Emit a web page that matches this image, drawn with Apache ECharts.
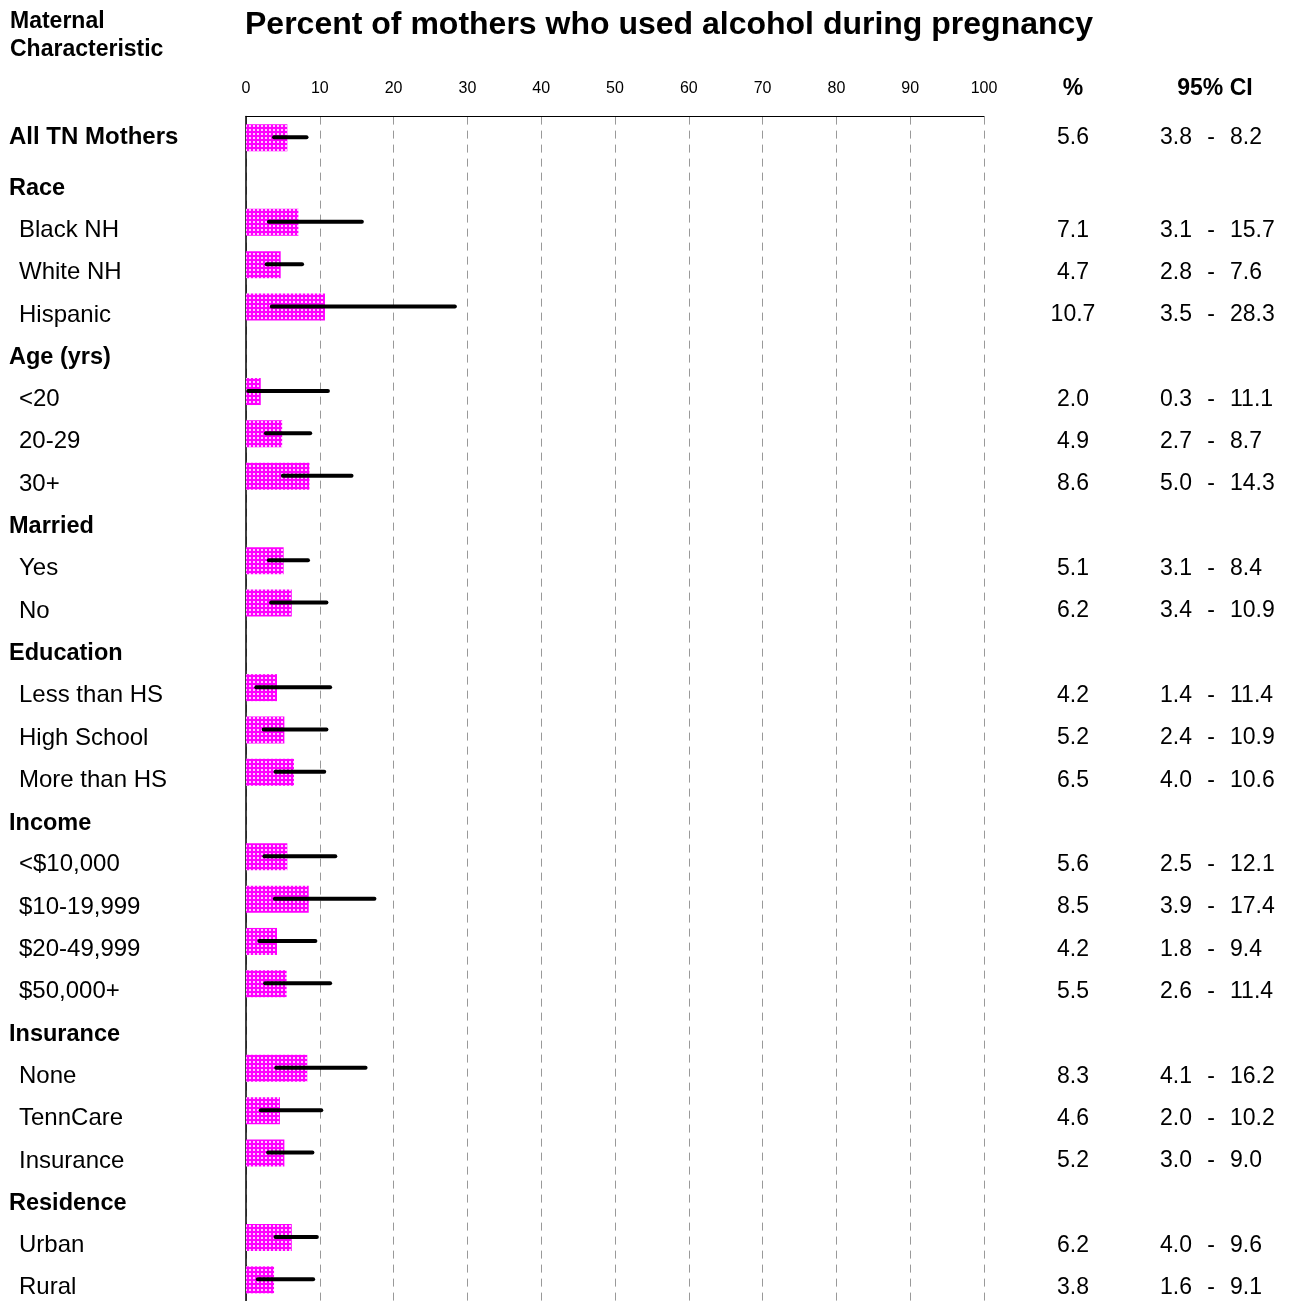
<!DOCTYPE html>
<html>
<head>
<meta charset="utf-8">
<script src="https://cdn.jsdelivr.net/npm/echarts@6/dist/echarts.min.js"></script>
<style>
html,body{margin:0;padding:0;background:#fff;}
#chart{width:1289px;height:1301px;}
</style>
</head>
<body>
<div id="chart"></div>
<script>
// ---- data ----
const rowLabels = ['All TN Mothers','Race','Black NH','White NH','Hispanic','Age (yrs)','<20','20-29','30+','Married','Yes','No','Education','Less than HS','High School','More than HS','Income','<$10,000','$10-19,999','$20-49,999','$50,000+','Insurance','None','TennCare','Insurance','Residence','Urban','Rural'];
const rowIsHeader = [true,true,false,false,false,true,false,false,false,true,false,false,true,false,false,false,true,false,false,false,false,true,false,false,false,true,false,false];
const pctValues = [5.6,null,7.1,4.7,10.7,null,2.0,4.9,8.6,null,5.1,6.2,null,4.2,5.2,6.5,null,5.6,8.5,4.2,5.5,null,8.3,4.6,5.2,null,6.2,3.8];
const ciLow  = [3.8,null,3.1,2.8,3.5,null,0.3,2.7,5.0,null,3.1,3.4,null,1.4,2.4,4.0,null,2.5,3.9,1.8,2.6,null,4.1,2.0,3.0,null,4.0,1.6];
const ciHigh = [8.2,null,15.7,7.6,28.3,null,11.1,8.7,14.3,null,8.4,10.9,null,11.4,10.9,10.6,null,12.1,17.4,9.4,11.4,null,16.2,10.2,9.0,null,9.6,9.1];
const xTicks = [0,10,20,30,40,50,60,70,80,90,100];

const FONT = "'Liberation Sans', Arial, Helvetica, sans-serif";
const rowIds = rowLabels.map((_, i) => 'r' + i);

// pattern fill for bars
const pc = document.createElement('canvas');
pc.width = 4; pc.height = 4;
const pctx = pc.getContext('2d');
pctx.fillStyle = '#ff00ff'; pctx.fillRect(0,0,4,4);
pctx.fillStyle = '#ffc8ff'; pctx.fillRect(1,1,2,2);

const barData = pctValues.map(v => v == null ? '-' : v);
const errData = [];
ciLow.forEach((lo, i) => { if (lo != null) errData.push([lo, ciHigh[i], i]); });

const richBase = {
  top: {fontFamily: FONT, fontSize: 23, color: '#000'},
  topb: {fontFamily: FONT, fontSize: 24, fontWeight: 'bold', color: '#000'},
  h: {fontFamily: FONT, fontSize: 23.5, fontWeight: 'bold', color: '#000', padding: [17,0,0,0]},
  it: {fontFamily: FONT, fontSize: 24, color: '#000', padding: [16,0,0,10]},
  v: {fontFamily: FONT, fontSize: 23, color: '#000', padding: [16,0,0,0]}
};

function valueAxis(margin, align, fn) {
  return {
    type: 'category', data: rowIds, inverse: true, position: 'right', gridIndex: 0,
    axisLine: {show: false}, axisTick: {show: false}, splitLine: {show: false},
    axisLabel: {
      interval: 0, margin: margin, align: align, rich: richBase,
      formatter: (v, i) => {
        const t = fn(i);
        if (t === '') return '';
        return i === 0 ? '{top|' + t + '}' : '{v|' + t + '}';
      }
    }
  };
}

const chart = echarts.init(document.getElementById('chart'), null, {renderer: 'canvas'});
chart.setOption({
  animation: false,
  backgroundColor: '#fff',
  title: [
    {text: 'Percent of mothers who used alcohol during pregnancy', left: 245, top: 9, padding: 0,
     textStyle: {fontFamily: FONT, fontSize: 32, fontWeight: 'bold', color: '#000'}},
    {text: 'Maternal\nCharacteristic', left: 10, top: 8, padding: 0,
     textStyle: {fontFamily: FONT, fontSize: 23, fontWeight: 'bold', color: '#000', lineHeight: 28}},
    {text: '%', left: 1073, top: 77, padding: 0, textAlign: 'center',
     textStyle: {fontFamily: FONT, fontSize: 23, fontWeight: 'bold', color: '#000'}},
    {text: '95% CI', left: 1215, top: 77, padding: 0, textAlign: 'center',
     textStyle: {fontFamily: FONT, fontSize: 23, fontWeight: 'bold', color: '#000'}}
  ],
  grid: {left: 246, right: 305, top: 116.6, height: 1186, containLabel: false},
  xAxis: {
    type: 'value', min: 0, max: 100, interval: 10, position: 'top',
    axisLine: {show: true, lineStyle: {color: '#000', width: 1}},
    axisTick: {show: false},
    splitLine: {show: true, lineStyle: {color: '#999', type: [8,6], width: 1}},
    axisLabel: {margin: 20, fontFamily: FONT, fontSize: 16, color: '#000',
      formatter: v => xTicks.indexOf(v) >= 0 ? String(v) : ''}
  },
  yAxis: [
    {
      type: 'category', data: rowIds, inverse: true, position: 'left',
      axisLine: {show: true, onZero: false, lineStyle: {color: '#000', width: 1.5}},
      axisTick: {show: false}, splitLine: {show: false},
      axisLabel: {
        interval: 0, margin: 237, align: 'left', rich: richBase,
        formatter: (v, i) => {
          const t = rowLabels[i];
          if (i === 0) return '{topb|' + t + '}';
          return rowIsHeader[i] ? '{h|' + t + '}' : '{it|' + t + '}';
        }
      }
    },
    valueAxis(89, 'center', i => pctValues[i] == null ? '' : pctValues[i].toFixed(1)),
    valueAxis(176, 'left', i => ciLow[i] == null ? '' : ciLow[i].toFixed(1)),
    valueAxis(227, 'center', i => ciLow[i] == null ? '' : '-'),
    valueAxis(246, 'left', i => ciHigh[i] == null ? '' : ciHigh[i].toFixed(1))
  ],
  series: [
    {
      type: 'bar', yAxisIndex: 0, data: barData, barWidth: 27, z: 2,
      itemStyle: {color: {image: pc, repeat: 'repeat'}},
      silent: true
    },
    {
      type: 'custom', yAxisIndex: 0, data: errData, silent: true, z: 5,
      encode: {x: [0, 1], y: 2},
      renderItem: (params, api) => {
        const idx = api.value(2);
        const p1 = api.coord([api.value(0), rowIds[idx]]);
        const p2 = api.coord([api.value(1), rowIds[idx]]);
        return {type: 'line', shape: {x1: p1[0], y1: p1[1] - 0.5, x2: p2[0], y2: p2[1] - 0.5},
          style: {stroke: '#000', lineWidth: 4, lineCap: 'round'}};
      }
    }
  ]
});
</script>
</body>
</html>
